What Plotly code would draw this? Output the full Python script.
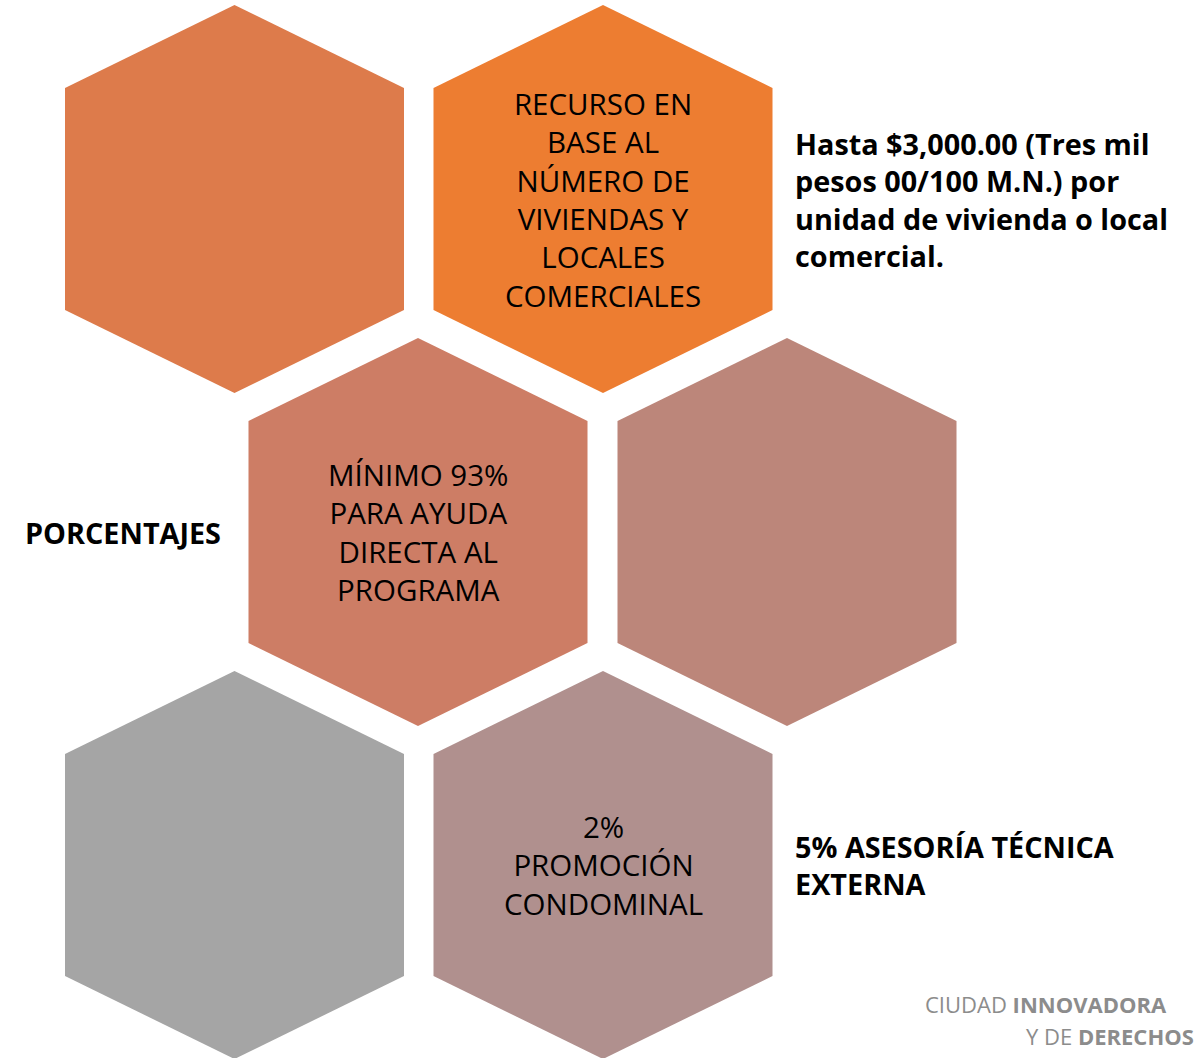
import plotly.graph_objects as go

# hexagon centres (pixel-like coordinates, y grows downward)
hex_x = [234.5, 603, 418, 787, 234.5, 603]
hex_y = [199, 199, 532, 532, 865, 865]
hex_colors = ["#DD7B4B", "#ED7D31", "#CD7D65", "#BC867A", "#A5A5A5", "#B0908E"]
hex_text = [
    "",
    "RECURSO EN<br>BASE AL<br>NÚMERO DE<br>VIVIENDAS Y<br>LOCALES<br>COMERCIALES",
    "MÍNIMO 93%<br>PARA AYUDA<br>DIRECTA AL<br>PROGRAMA",
    "",
    "",
    "2%<br>PROMOCIÓN<br>CONDOMINAL",
]

# hexagon outline offsets (pointy top)
dx = [0, 169.5, 169.5, 0, -169.5, -169.5, 0]
dy = [-194, -111, 111, 194, 111, -111, -194]

side_labels = [
    ("<b>Hasta $3,000.00 (Tres mil<br>pesos 00/100 M.N.) por<br>unidad de vivienda o local<br>comercial.</b>", 793, 199),
    ("<b>PORCENTAJES</b>", 23, 532),
    ("<b>5% ASESORÍA TÉCNICA<br>EXTERNA</b>", 793, 865),
]

fig = go.Figure()

for cx, cy, col in zip(hex_x, hex_y, hex_colors):
    fig.add_trace(go.Scatter(
        x=[cx + d for d in dx], y=[cy + d for d in dy],
        fill="toself", fillcolor=col, mode="lines",
        line=dict(width=0, color=col), hoverinfo="skip", showlegend=False))

for cx, cy, t in zip(hex_x, hex_y, hex_text):
    if t:
        fig.add_annotation(x=cx, y=cy, text=t, showarrow=False,
                           font=dict(family="Open Sans", size=29.5, color="#000000"),
                           align="center", xanchor="center", yanchor="middle")

for t, x, y in side_labels:
    fig.add_annotation(x=x, y=y, text=t, showarrow=False,
                       font=dict(family="Open Sans", size=28.8, color="#000000"),
                       align="left", xanchor="left", yanchor="middle")

# logo text
fig.add_annotation(x=1168, y=1020, text="CIUDAD <b>INNOVADORA</b>", showarrow=False,
                   font=dict(family="Open Sans", size=22, color="#8C8C8C"),
                   xanchor="right", yanchor="bottom", borderpad=0)
fig.add_annotation(x=1195, y=1020, text="Y DE <b>DERECHOS</b>", showarrow=False,
                   font=dict(family="Open Sans", size=22, color="#8C8C8C"),
                   xanchor="right", yanchor="top", borderpad=0)

fig.update_xaxes(range=[0, 1201], visible=False, fixedrange=True)
fig.update_yaxes(range=[1058, 0], visible=False, fixedrange=True)
fig.update_layout(width=1201, height=1058, margin=dict(l=0, r=0, t=0, b=0),
                  plot_bgcolor="white", paper_bgcolor="white")

fig.write_html("out.html", config={"displayModeBar": False},
               post_script="document.body.style.margin='0';")
